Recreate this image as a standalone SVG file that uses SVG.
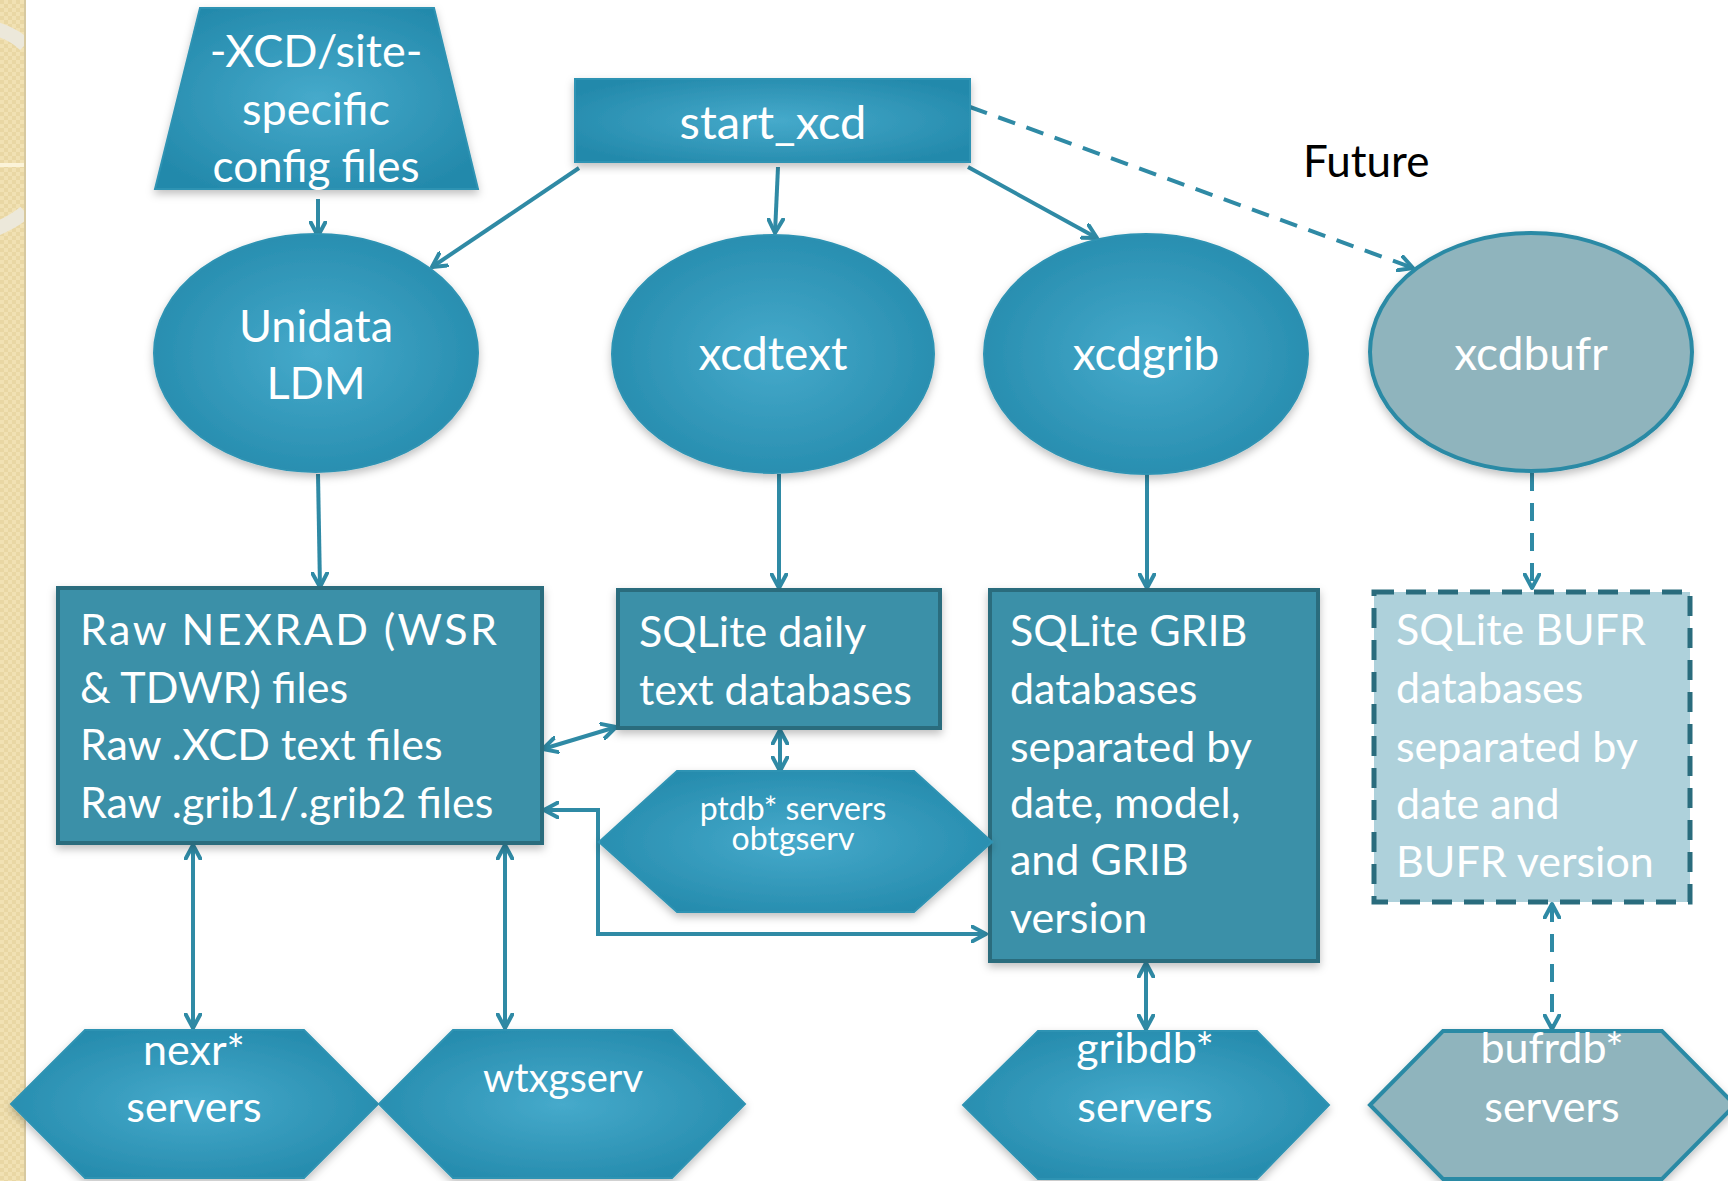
<svg xmlns="http://www.w3.org/2000/svg" width="1728" height="1181" viewBox="0 0 1728 1181">
  <defs>
    <radialGradient id="teal" cx="50%" cy="50%" r="60%">
      <stop offset="0" stop-color="#46aacb"/>
      <stop offset="1" stop-color="#2389ab"/>
    </radialGradient>
    <pattern id="weave" width="8" height="8" patternUnits="userSpaceOnUse">
      <rect width="8" height="8" fill="#f1e1b3"/>
      <rect x="0" y="0" width="4" height="4" fill="#e9d7a4"/>
      <rect x="4" y="4" width="4" height="4" fill="#e9d7a4"/>
    </pattern>
    <filter id="shadow" x="-10%" y="-10%" width="120%" height="125%">
      <feDropShadow dx="0" dy="4" stdDeviation="4" flood-color="#000" flood-opacity="0.25"/>
    </filter>
    <marker id="arrow" viewBox="0 0 18 18" refX="15" refY="9" markerWidth="18" markerHeight="18" markerUnits="userSpaceOnUse" orient="auto-start-reverse">
      <path d="M1,1.5 L15,9 L1,16.5" fill="none" stroke="#2f8aa5" stroke-width="4" stroke-linecap="round" stroke-linejoin="round"/>
    </marker>
    <clipPath id="stripClip"><rect x="0" y="0" width="25" height="1181"/></clipPath>
  </defs>
  <style>
    .lbl { font-family: Lato, "Open Sans", "Liberation Sans", sans-serif; fill: #ffffff; }
    .mid { text-anchor: middle; }
    .shape { fill: url(#teal); stroke: #2f93b3; stroke-width: 2; filter: url(#shadow); }
    .future { fill: #8fb4bd; stroke: #2c8aa5; stroke-width: 4; filter: url(#shadow); }
    .store { fill: #3a90a8; stroke: #2a6c7d; stroke-width: 4; filter: url(#shadow); }
    .store-dash { fill: #aed1db; stroke: #2a6c7d; stroke-width: 5; stroke-dasharray: 20 12; }
    .store-text { font-size: 43px; }
    .conn { fill: none; stroke: #2f8aa5; stroke-width: 4; }
    .dash { stroke-dasharray: 18 12; }
  </style>

  <rect width="1728" height="1181" fill="#ffffff"/>

  <!-- decorative side strip -->
  <g id="side-strip">
    <rect x="0" y="0" width="25" height="1181" fill="url(#weave)"/>
    <g clip-path="url(#stripClip)" fill="none" stroke="#ece8da" stroke-width="14">
      <path d="M-20,25 Q10,30 25,45"/>
      <path d="M-20,235 Q10,225 25,212"/>
    </g>
    <line x1="0" y1="165" x2="25" y2="165" stroke="#fbf3d8" stroke-width="4"/>
    <line x1="25" y1="0" x2="25" y2="1181" stroke="#d7c9a0" stroke-width="2"/>
  </g>

  <!-- connectors -->
  <g id="connectors">
    <line class="conn" x1="318" y1="199" x2="318" y2="236" marker-end="url(#arrow)"/>
    <line class="conn" x1="579" y1="168" x2="432" y2="267" marker-end="url(#arrow)"/>
    <line class="conn" x1="778" y1="167" x2="775" y2="233" marker-end="url(#arrow)"/>
    <line class="conn" x1="968" y1="167" x2="1097" y2="238" marker-end="url(#arrow)"/>
    <line class="conn dash" x1="970" y1="107" x2="1413" y2="268" marker-end="url(#arrow)"/>
    <line class="conn" x1="318" y1="474" x2="320" y2="587" marker-end="url(#arrow)"/>
    <line class="conn" x1="779" y1="474" x2="779" y2="588" marker-end="url(#arrow)"/>
    <line class="conn" x1="1147" y1="474" x2="1147" y2="588" marker-end="url(#arrow)"/>
    <line class="conn dash" x1="1532" y1="473" x2="1532" y2="588" marker-end="url(#arrow)"/>
    <line class="conn" x1="543" y1="749" x2="616" y2="727" marker-start="url(#arrow)" marker-end="url(#arrow)"/>
    <line class="conn" x1="780" y1="730" x2="780" y2="771" marker-start="url(#arrow)" marker-end="url(#arrow)"/>
    <polyline class="conn" points="544,810 598,810 598,934 986,934" marker-start="url(#arrow)" marker-end="url(#arrow)"/>
    <line class="conn" x1="193" y1="845" x2="193" y2="1028" marker-start="url(#arrow)" marker-end="url(#arrow)"/>
    <line class="conn" x1="505" y1="845" x2="505" y2="1028" marker-start="url(#arrow)" marker-end="url(#arrow)"/>
    <line class="conn" x1="1146" y1="963" x2="1146" y2="1029" marker-start="url(#arrow)" marker-end="url(#arrow)"/>
    <line class="conn dash" x1="1552" y1="904" x2="1552" y2="1029" marker-start="url(#arrow)" marker-end="url(#arrow)"/>
  </g>

  <!-- configuration input -->
  <g id="config-files">
    <polygon class="shape" points="200,8 434,8 478,189 155,189"/>
    <text class="lbl mid" x="316" y="67" font-size="45">-XCD/site-</text>
    <text class="lbl mid" x="316" y="125" font-size="45">specific</text>
    <text class="lbl mid" x="316" y="182" font-size="44">config files</text>
  </g>

  <g id="start-xcd">
    <rect class="shape" x="575" y="79" width="395" height="83"/>
    <text class="lbl mid" x="773" y="139" font-size="47">start_xcd</text>
  </g>

  <text id="future-label" x="1303" y="177" font-family="Lato, 'Open Sans', 'Liberation Sans', sans-serif" font-size="44" fill="#000000">Future</text>

  <!-- decoders -->
  <g id="unidata-ldm">
    <ellipse class="shape" cx="316" cy="353" rx="162" ry="119"/>
    <text class="lbl mid" x="316" y="342" font-size="45">Unidata</text>
    <text class="lbl mid" x="316" y="399" font-size="45">LDM</text>
  </g>
  <g id="xcdtext">
    <ellipse class="shape" cx="773" cy="354" rx="161" ry="119"/>
    <text class="lbl mid" x="773" y="370" font-size="46">xcdtext</text>
  </g>
  <g id="xcdgrib">
    <ellipse class="shape" cx="1146" cy="354" rx="162" ry="120"/>
    <text class="lbl mid" x="1146" y="370" font-size="46">xcdgrib</text>
  </g>
  <g id="xcdbufr">
    <ellipse class="future" cx="1531" cy="352" rx="161" ry="119"/>
    <text class="lbl mid" x="1531" y="370" font-size="46">xcdbufr</text>
  </g>

  <!-- data stores -->
  <g id="raw-files">
    <rect class="store" x="58" y="588" width="484" height="255"/>
    <text class="lbl store-text" x="80" y="645" textLength="417" lengthAdjust="spacing">Raw NEXRAD (WSR</text>
    <text class="lbl store-text" x="80" y="703">&amp; TDWR) files</text>
    <text class="lbl store-text" x="80" y="760">Raw .XCD text files</text>
    <text class="lbl store-text" x="80" y="818">Raw .grib1/.grib2 files</text>
  </g>
  <g id="sqlite-text">
    <rect class="store" x="618" y="590" width="322" height="138"/>
    <text class="lbl store-text" x="639" y="647">SQLite daily</text>
    <text class="lbl store-text" x="639" y="705">text databases</text>
  </g>
  <g id="sqlite-grib">
    <rect class="store" x="990" y="590" width="328" height="371"/>
    <text class="lbl store-text" x="1010" y="646">SQLite GRIB</text>
    <text class="lbl store-text" x="1010" y="704">databases</text>
    <text class="lbl store-text" x="1010" y="762">separated by</text>
    <text class="lbl store-text" x="1010" y="818">date, model,</text>
    <text class="lbl store-text" x="1010" y="875">and GRIB</text>
    <text class="lbl store-text" x="1010" y="933">version</text>
  </g>
  <g id="sqlite-bufr">
    <rect class="store-dash" x="1374" y="592" width="316" height="310"/>
    <text class="lbl store-text" x="1396" y="645">SQLite BUFR</text>
    <text class="lbl store-text" x="1396" y="703">databases</text>
    <text class="lbl store-text" x="1396" y="762">separated by</text>
    <text class="lbl store-text" x="1396" y="819">date and</text>
    <text class="lbl store-text" x="1396" y="877">BUFR version</text>
  </g>

  <!-- servers -->
  <g id="ptdb-servers">
    <polygon class="shape" points="599,842 677,771 914,771 992,842 914,912 677,912"/>
    <text class="lbl mid" font-size="32"><tspan x="793" y="820">ptdb* servers</tspan><tspan x="793" y="850">obtgserv</tspan></text>
  </g>
  <g id="nexr-servers">
    <polygon class="shape" points="11,1104 85,1030 304,1030 378,1104 304,1178 85,1178"/>
    <text class="lbl mid" x="194" y="1065" font-size="43">nexr*</text>
    <text class="lbl mid" x="194" y="1122" font-size="43">servers</text>
  </g>
  <g id="wtxgserv">
    <polygon class="shape" points="379,1104 453,1030 672,1030 745,1104 672,1178 453,1178"/>
    <text class="lbl mid" x="563" y="1092" font-size="40">wtxgserv</text>
  </g>
  <g id="gribdb-servers">
    <polygon class="shape" points="963,1105 1038,1031 1257,1031 1329,1105 1257,1179 1038,1179"/>
    <text class="lbl mid" x="1145" y="1063" font-size="43">gribdb*</text>
    <text class="lbl mid" x="1145" y="1122" font-size="43">servers</text>
  </g>
  <g id="bufrdb-servers">
    <polygon class="future" points="1370,1105 1443,1031 1662,1031 1735,1105 1662,1179 1443,1179"/>
    <text class="lbl mid" x="1552" y="1063" font-size="43">bufrdb*</text>
    <text class="lbl mid" x="1552" y="1122" font-size="43">servers</text>
  </g>
</svg>
